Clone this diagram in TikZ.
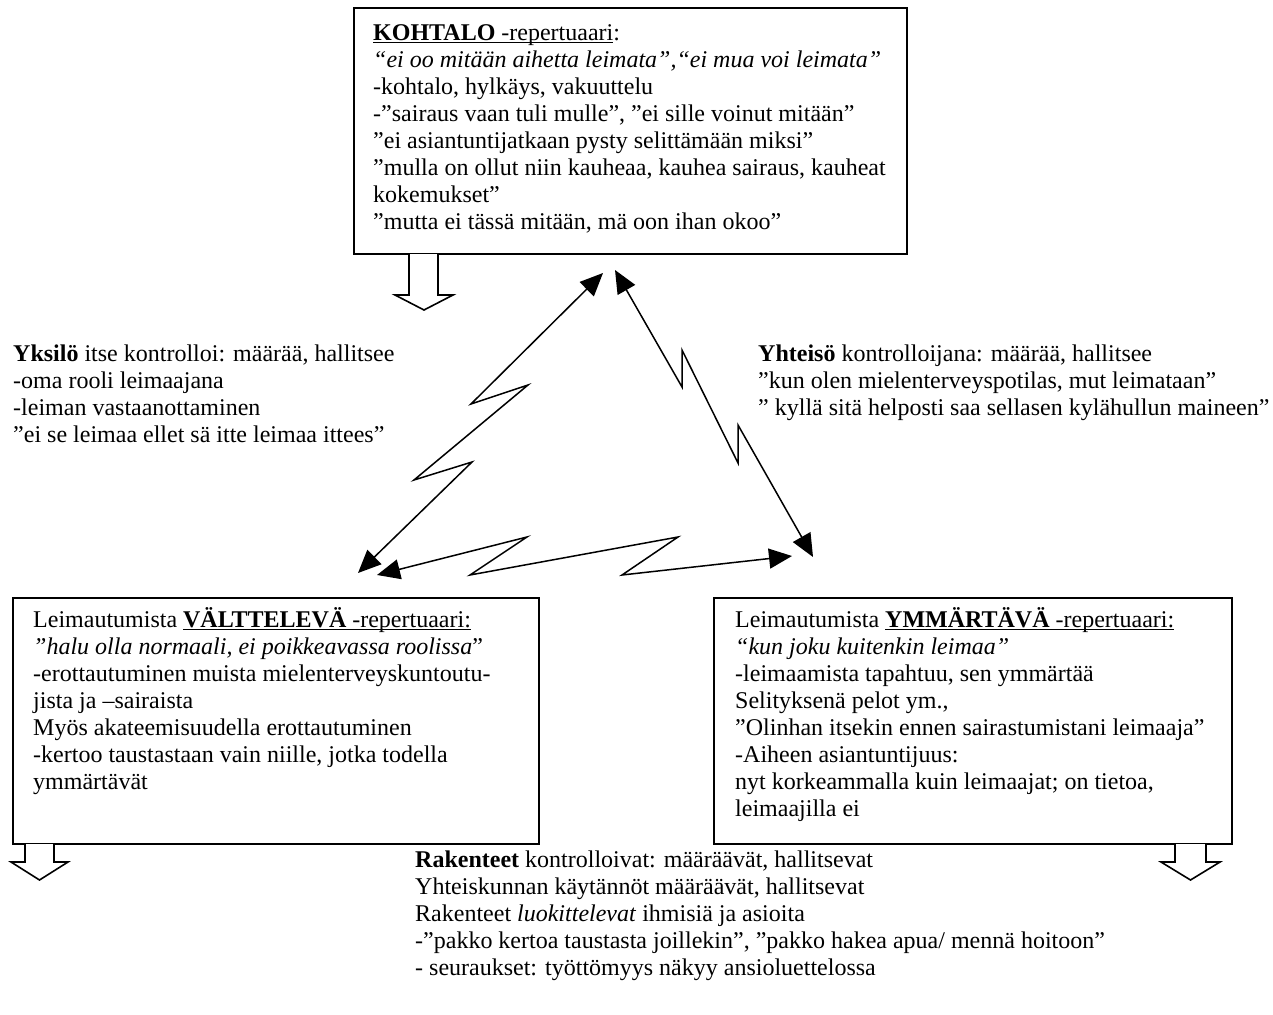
\documentclass[tikz,border=0pt]{standalone}
\usepackage{fontspec}
\setmainfont{Liberation Serif}
\usetikzlibrary{arrows.meta}
\newcommand{\fst}{\rule{0pt}{22pt}}
\newsavebox{\myulbox}
\newcommand{\myul}[1]{\sbox{\myulbox}{#1}\rlap{\rule[-2.8pt]{\wd\myulbox}{1.4pt}}\usebox{\myulbox}}
\begin{document}
\begin{tikzpicture}[x=1pt,y=-1pt,
  box/.style={draw, line width=1.8pt, inner sep=0pt, anchor=north west},
  txt/.style={anchor=north west, inner sep=0pt, align=left, font=\fontsize{24}{27}\selectfont},
  zig/.style={line width=1.5pt, {Triangle[length=23pt,width=20pt]}-{Triangle[length=23pt,width=20pt]}, line join=miter},
  hollow/.style={draw, line width=1.6pt, fill=white, line join=miter}]
\useasboundingbox (0,0) rectangle (1273,1014);

% boxes
\node[box, minimum width=553pt, minimum height=246pt] (top) at (353,7) {};
\node[box, minimum width=526pt, minimum height=246pt] (left) at (12,597) {};
\node[box, minimum width=518pt, minimum height=246pt] (right) at (713,597) {};

% box texts
\node[txt] (toptext) at (373,18) {\fst\myul{\textbf{KOHTALO} -repertuaari}:\\
\textit{“ei oo mitään aihetta leimata”,“ei mua voi leimata”}\\
-kohtalo, hylkäys, vakuuttelu\\
-”sairaus vaan tuli mulle”, ”ei sille voinut mitään”\\
”ei asiantuntijatkaan pysty selittämään miksi”\\
”mulla on ollut niin kauheaa, kauhea sairaus, kauheat\\
kokemukset”\\
”mutta ei tässä mitään, mä oon ihan okoo”};

\node[txt] (lefttext) at (33,605) {\fst Leimautumista \myul{\textbf{VÄLTTELEVÄ} -repertuaari:}\\
\textit{”halu olla normaali, ei poikkeavassa roolissa}”\\
-erottautuminen muista mielenterveyskuntoutu-\\
jista ja –sairaista\\
Myös akateemisuudella erottautuminen\\
-kertoo taustastaan vain niille, jotka todella\\
ymmärtävät};

\node[txt] (righttext) at (735,605) {\fst Leimautumista \myul{\textbf{YMMÄRTÄVÄ} -repertuaari:}\\
\textit{“kun joku kuitenkin leimaa”}\\
-leimaamista tapahtuu, sen ymmärtää\\
Selityksenä pelot ym.,\\
”Olinhan itsekin ennen sairastumistani leimaaja”\\
-Aiheen asiantuntijuus:\\
nyt korkeammalla kuin leimaajat; on tietoa,\\
leimaajilla ei};

% free labels
\node[txt] (yksilo) at (13,339) {\fst\textbf{Yksilö} itse kontrolloi: määrää, hallitsee\\
-oma rooli leimaajana\\
-leiman vastaanottaminen\\
”ei se leimaa ellet sä itte leimaa ittees”};

\node[txt] (yhteiso) at (758,339) {\fst\textbf{Yhteisö} kontrolloijana: määrää, hallitsee\\
”kun olen mielenterveyspotilas, mut leimataan”\\
” kyllä sitä helposti saa sellasen kylähullun maineen”};

\node[txt] (rakenteet) at (415,845) {\fst\textbf{Rakenteet} kontrolloivat: määräävät, hallitsevat\\
Yhteiskunnan käytännöt määräävät, hallitsevat\\
Rakenteet \textit{luokittelevat} ihmisiä ja asioita\\
-”pakko kertoa taustasta joillekin”, ”pakko hakea apua/ mennä hoitoon”\\
- seuraukset: työttömyys näkyy ansioluettelossa};

% triangle corner coordinates
\coordinate (tL) at (603,273);
\coordinate (tR) at (615,270);
\coordinate (lT) at (358,573);
\coordinate (lB) at (377,575);
\coordinate (rB) at (792,556);
\coordinate (rT) at (813,557);

% zigzag double arrows
\draw[zig] (lT) -- (472,462) -- (414,480) -- (528,385) -- (471,404) -- (tL);
\draw[zig] (tR) -- (682,387) -- (682,350) -- (738,463) -- (738,425) -- (rT);
\draw[zig] (lB) -- (527,537) -- (470,575) -- (678,537) -- (622,575) -- (rB);

% hollow block arrows
\draw[hollow] (409,254) -- (409,295) -- (395,295) -- (424,310) -- (453,295) -- (438,295) -- (438,254);
\draw[hollow] (25,844) -- (25,862) -- (11,862) -- (39.5,880) -- (68,862) -- (54,862) -- (54,844);
\draw[hollow] (1175,844) -- (1175,862) -- (1161,862) -- (1190.5,880) -- (1220,862) -- (1206,862) -- (1206,844);
\end{tikzpicture}
\end{document}
